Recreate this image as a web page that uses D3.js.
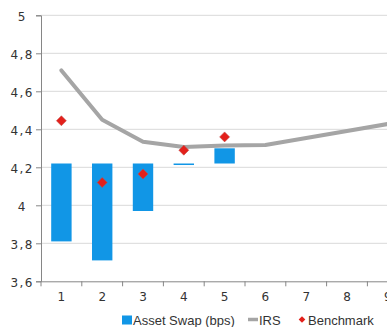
<!DOCTYPE html>
<html><head><meta charset="utf-8">
<script src="https://cdn.jsdelivr.net/npm/d3@7"></script>
<style>
html,body{margin:0;padding:0;background:#fff;overflow:hidden;}
svg{display:block;}
</style></head>
<body><svg id="c" width="387" height="327"></svg>
<script>
// ---- data ----
const categories = ["1","2","3","4","5","6","7","8","9","10"];
const aswBase = 4.22;                       // level the asset-swap bars hang from
const assetSwapBps = [-41, -51, -25, -0.8, 8];  // maturities 1..5
const irs = [4.71, 4.45, 4.335, 4.307, 4.315, 4.317, 4.354, 4.391, 4.428];
const benchmark = [4.445, 4.12, 4.165, 4.29, 4.36];
const yTicks = [3.6, 3.8, 4.0, 4.2, 4.4, 4.6, 4.8, 5.0];
const legendLabels = ["Asset Swap (bps)", "IRS", "Benchmark"];

(function(){
const svg = d3.select("#c");
const left = 41, plotTop = 15.3, bottom = 281.3;
const x = d3.scaleBand().domain(categories).range([left, left + 40.8*categories.length]).paddingInner(0.5).paddingOuter(0.25);
const y = d3.scaleLinear().domain([3.6, 5]).range([bottom, plotTop]);
const fmt = v => String(+v.toFixed(1)).replace(".", ",");

// gridlines
svg.append("g").selectAll("line").data(yTicks.filter(t => t > 3.6)).join("line")
  .attr("x1", left).attr("x2", 387).attr("y1", d => y(d)).attr("y2", d => y(d))
  .attr("stroke", "#d9d9d9").attr("stroke-width", 1);

// bars
svg.append("g").selectAll("rect").data(assetSwapBps).join("rect")
  .attr("x", (d,i) => x(categories[i]))
  .attr("width", x.bandwidth())
  .attr("y", d => y(Math.max(aswBase, aswBase + d/100)))
  .attr("height", d => Math.max(1.5, Math.abs(y(aswBase + d/100) - y(aswBase))))
  .attr("fill", "#1196e6");

// IRS line
const line = d3.line().x((d,i) => x(categories[i]) + x.bandwidth()/2).y(d => y(d));
svg.append("path").datum(irs).attr("d", line)
  .attr("fill", "none").attr("stroke", "#a5a5a5").attr("stroke-width", 4)
  .attr("stroke-linejoin", "round").attr("stroke-linecap", "round");

// benchmark diamonds
svg.append("g").selectAll("path").data(benchmark).join("path")
  .attr("d", d3.symbol().type(d3.symbolSquare).size(50))
  .attr("transform", (d,i) => `translate(${x(categories[i]) + x.bandwidth()/2},${y(d)}) rotate(45)`)
  .attr("fill", "#e3201b").attr("stroke", "#c0504d").attr("stroke-width", 0.5);

// y axis
const yAxis = svg.append("g").attr("transform", `translate(${left},0)`)
  .call(d3.axisLeft(y).tickValues(yTicks).tickSize(5).tickFormat(fmt));
yAxis.select(".domain").attr("stroke", "#868686");
yAxis.selectAll(".tick line").attr("stroke", "#868686");
yAxis.selectAll(".tick text")
  .attr("font-family", "DejaVu Sans").attr("font-size", 12).attr("fill", "#333")
  .attr("letter-spacing", "1.5px")
  .attr("x", d => (fmt(d).length > 1 ? -7 : -14)).attr("dy", "0.45em");

// x axis
const xAxis = svg.append("g").attr("transform", `translate(0,${bottom})`)
  .call(d3.axisBottom(x).tickSize(0).tickPadding(11));
xAxis.select(".domain").attr("stroke", "#868686");
xAxis.selectAll(".tick text").attr("font-family", "DejaVu Sans").attr("font-size", 12).attr("fill", "#333");
svg.append("g").selectAll("line").data(categories).join("line")
  .attr("x1", d => x(d) - x.step()*x.paddingInner()/2).attr("x2", d => x(d) - x.step()*x.paddingInner()/2)
  .attr("y1", bottom).attr("y2", bottom + 5).attr("stroke", "#868686");

// legend
const lg = svg.append("g").attr("font-family", "Liberation Sans, Arial").attr("font-size", 13).attr("fill", "#333");
const ly = 320;
lg.append("rect").attr("x", 122).attr("y", ly - 4.5).attr("width", 10).attr("height", 9).attr("fill", "#1196e6");
lg.append("text").attr("x", 133).attr("y", ly).attr("dy", "0.35em").text(legendLabels[0]);
lg.append("line").attr("x1", 248).attr("x2", 258).attr("y1", ly - 0.5).attr("y2", ly - 0.5).attr("stroke", "#a5a5a5").attr("stroke-width", 3.5);
lg.append("text").attr("x", 259).attr("y", ly).attr("dy", "0.35em").text(legendLabels[1]);
lg.append("path").attr("d", d3.symbol().type(d3.symbolSquare).size(22))
  .attr("transform", `translate(302,${ly - 0.5}) rotate(45)`).attr("fill", "#e3201b");
lg.append("text").attr("x", 308).attr("y", ly).attr("dy", "0.35em").text(legendLabels[2]);
})();
</script>
</body></html>
